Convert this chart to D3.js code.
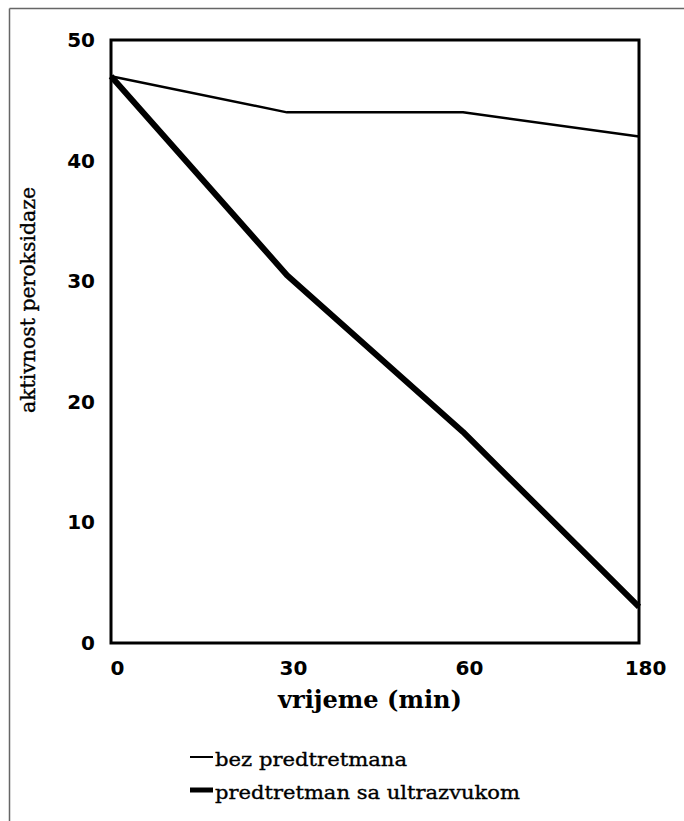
<!DOCTYPE html>
<html>
<head>
<meta charset="utf-8">
<script src="https://cdn.jsdelivr.net/npm/d3@7"></script>
<style>
  html, body { margin: 0; padding: 0; background: #fff; }
  svg { display: block; }
</style>
</head>
<body>
<svg id="chart" width="684" height="821"></svg>
<script>
// ---- data ----
const categories = ["0", "30", "60", "180"];
const bezPredtretmana = [47, 44, 44, 42];
const predtretmanUltrazvuk = [47, 30.5, 17.5, 3];
const yTicks = [0, 10, 20, 30, 40, 50];
const seriesNames = ["bez predtretmana", "predtretman sa ultrazvukom"];
const xTitle = "vrijeme (min)";
const yTitle = "aktivnost peroksidaze";

// ---- layout ----
const svg = d3.select("#chart");
const plot = { left: 111, right: 639, top: 40, bottom: 643 };

// outer frame (top & left edges visible)
svg.append("line").attr("x1", 9.5).attr("y1", 8.5).attr("x2", 684).attr("y2", 8.5)
  .attr("stroke", "#666").attr("stroke-width", 1.5);
svg.append("line").attr("x1", 9.5).attr("y1", 8.5).attr("x2", 9.5).attr("y2", 821)
  .attr("stroke", "#666").attr("stroke-width", 1.5);

const x = d3.scalePoint().domain(categories).range([plot.left, plot.right]);
const y = d3.scaleLinear().domain([0, 50]).range([plot.bottom, plot.top]);

// plot box
svg.append("rect")
  .attr("x", plot.left).attr("y", plot.top)
  .attr("width", plot.right - plot.left).attr("height", plot.bottom - plot.top)
  .attr("fill", "none").attr("stroke", "#000").attr("stroke-width", 3);

// y axis labels
const yAxis = svg.append("g")
  .attr("transform", `translate(${plot.left},0)`)
  .call(d3.axisLeft(y).tickValues(yTicks).tickSize(0).tickPadding(16).tickFormat(d3.format("d")));
yAxis.select(".domain").remove();
yAxis.selectAll("text")
  .attr("font-family", "DejaVu Sans").attr("font-weight", "bold").attr("font-size", 20).attr("fill", "#000");

// x axis labels
const xAxis = svg.append("g")
  .attr("transform", `translate(0,${plot.bottom})`)
  .call(d3.axisBottom(x).tickSize(0).tickPadding(18));
xAxis.select(".domain").remove();
xAxis.selectAll("text")
  .attr("dx", 6)
  .attr("font-family", "DejaVu Sans").attr("font-weight", "bold").attr("font-size", 20).attr("fill", "#000");

// lines
const line = d3.line().x((d, i) => x(categories[i])).y(d => y(d));
svg.append("path").datum(bezPredtretmana)
  .attr("d", line).attr("fill", "none").attr("stroke", "#000").attr("stroke-width", 2.5)
  .attr("stroke-linejoin", "round");
svg.append("path").datum(predtretmanUltrazvuk)
  .attr("d", line).attr("fill", "none").attr("stroke", "#000").attr("stroke-width", 6)
  .attr("stroke-linejoin", "round");

// axis titles
svg.append("text")
  .attr("x", 370).attr("y", 708).attr("text-anchor", "middle")
  .attr("font-family", "DejaVu Serif").attr("font-weight", "bold").attr("font-size", 24)
  .attr("textLength", 184).attr("lengthAdjust", "spacingAndGlyphs")
  .text(xTitle);

svg.append("text")
  .attr("transform", "translate(35,300) rotate(-90)")
  .attr("text-anchor", "middle")
  .attr("font-family", "DejaVu Serif").attr("font-size", 20)
  .attr("stroke", "#000").attr("stroke-width", 0.35)
  .attr("textLength", 226).attr("lengthAdjust", "spacingAndGlyphs")
  .text(yTitle);

// legend
const legend = svg.append("g");
const legW = [192, 305];
const legStroke = [2, 5];
seriesNames.forEach((name, i) => {
  const base = 766 + i * 33;
  legend.append("line")
    .attr("x1", 190).attr("x2", 213)
    .attr("y1", base - 9).attr("y2", base - 9)
    .attr("stroke", "#000").attr("stroke-width", legStroke[i]);
  legend.append("text")
    .attr("x", 215).attr("y", base)
    .attr("font-family", "DejaVu Serif").attr("font-size", 19)
    .attr("stroke", "#000").attr("stroke-width", 0.35)
    .attr("textLength", legW[i]).attr("lengthAdjust", "spacingAndGlyphs")
    .text(name);
});
</script>
</body>
</html>
